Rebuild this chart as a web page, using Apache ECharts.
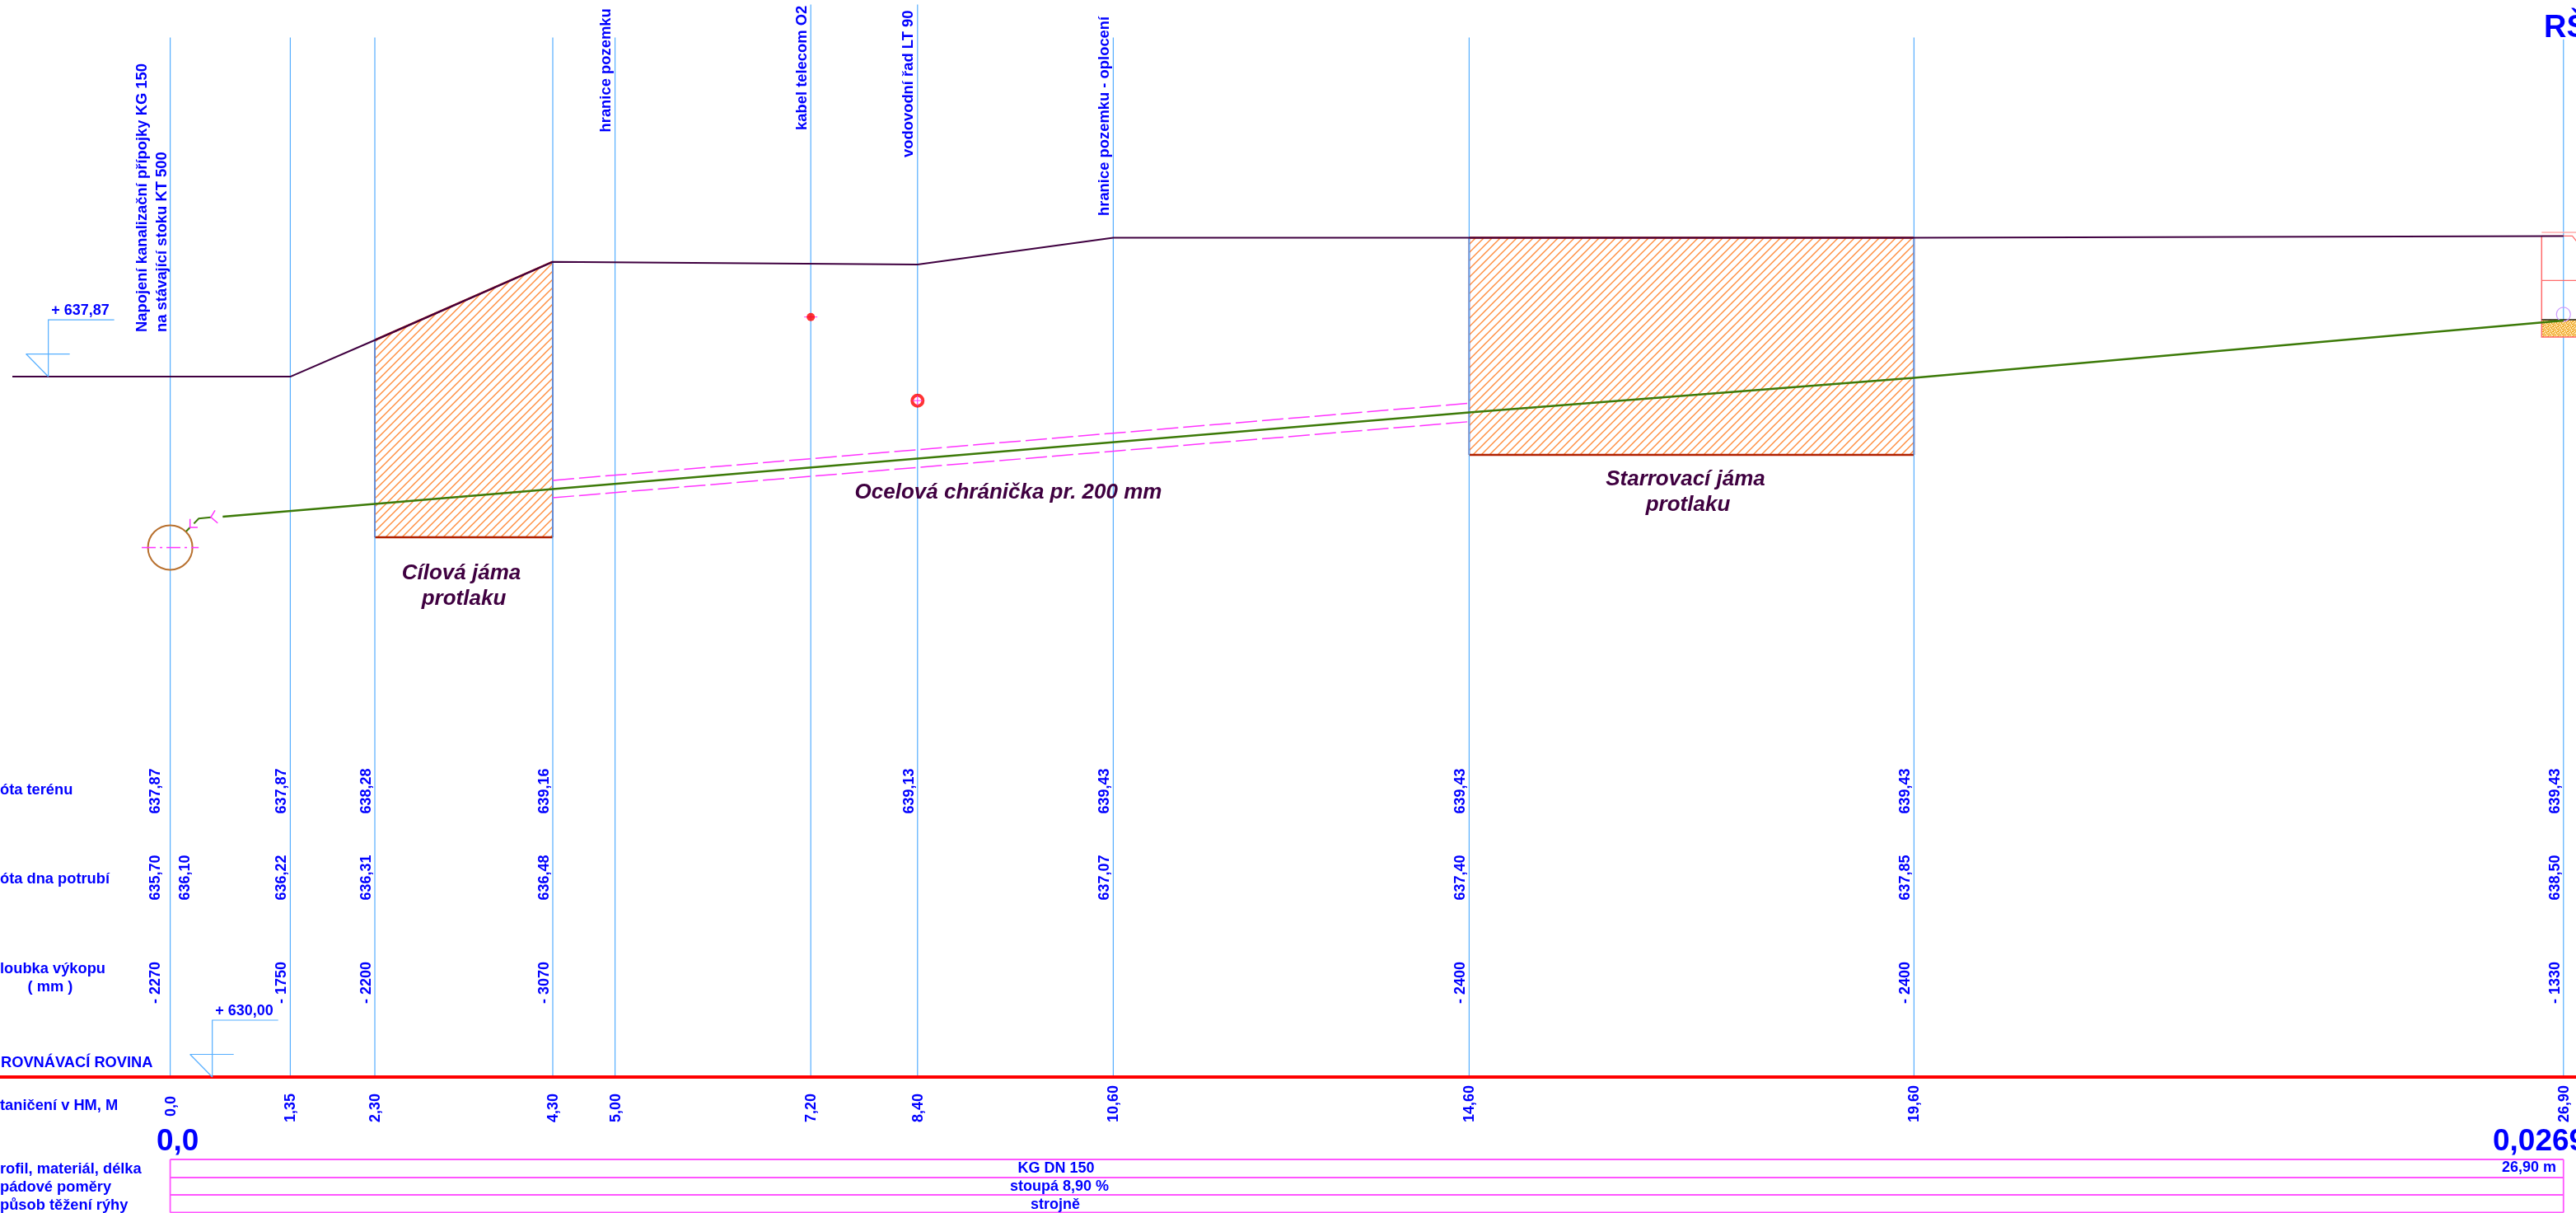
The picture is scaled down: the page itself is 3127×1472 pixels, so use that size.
<!DOCTYPE html>
<html><head><meta charset="utf-8">
<style>html,body{margin:0;padding:0;background:#fff;overflow:hidden}#c{width:3127px;height:1472px}</style>
<script src="https://cdn.jsdelivr.net/npm/echarts@6/dist/echarts.min.js"></script>
</head><body><div id="c"></div>
<script>
// ---- data (staničení s in metres, kóta z in metres a.s.l.) ----
const stations      = [0, 1.35, 2.30, 4.30, 5.00, 7.20, 8.40, 10.60, 14.60, 19.60, 26.90];
const stationLabels = ['0,0','1,35','2,30','4,30','5,00','7,20','8,40','10,60','14,60','19,60','26,90'];
const stationTopZ   = [641.68,641.68,641.68,641.68,641.68,642.05,642.05,641.68,641.68,641.68,641.66];
const terrainS = [-1.774, 0, 1.35, 2.30, 4.30, 8.40, 10.60, 14.60, 19.60, 26.90];
const terrainZ = [637.87, 637.87, 637.87, 638.28, 639.16, 639.13, 639.43, 639.43, 639.43, 639.45];
const pipeS = [0.59, 2.30, 4.30, 14.60, 19.60, 26.90];
const pipeZ = [636.296, 636.44, 636.606, 637.467, 637.856, 638.50];
const casingS = [4.30, 14.60];
const casingTopZ = [636.704, 637.571];
const casingBotZ = [636.509, 637.364];
const targetPitS = [2.30, 4.30, 4.30, 2.30];
const targetPitZ = [638.28, 639.16, 636.065, 636.065];
const startPitS = [14.60, 19.60, 19.60, 14.60];
const startPitZ = [639.43, 639.43, 636.99, 636.99];
const datumZ = 630;
const terrainRowS = [0,1.35,2.30,4.30,8.40,10.60,14.60,19.60,26.90];
const terrainRow  = ['637,87','637,87','638,28','639,16','639,13','639,43','639,43','639,43','639,43'];
const pipeRowS = [0,1.35,2.30,4.30,10.60,14.60,19.60,26.90];
const pipeRow  = ['635,70','636,22','636,31','636,48','637,07','637,40','637,85','638,50'];
const depthRowS = [0,1.35,2.30,4.30,14.60,19.60,26.90];
const depthRow  = ['- 2270','- 1750','- 2200','- 3070','- 2400','- 2400','- 1330'];
const utilityS = [0,5.00,7.20,8.40,10.60];
const utilityNames = ['Napojení kanalizační přípojky KG 150','hranice pozemku','kabel telecom O2','vodovodní řad LT 90','hranice pozemku - oplocení'];
const rowTitles = ['óta terénu','óta dna potrubí','loubka výkopu','( mm )','ROVNÁVACÍ ROVINA','taničení v HM, M','rofil, materiál, délka','pádové poměry','působ těžení rýhy'];
const tableTexts = ['KG DN 150','stoupá 8,90 %','strojně'];
const cableZ = 638.54, waterZ = 637.60, sewerZ = 635.95, sewerR = 0.25;
const manholeS = [26.655, 27.2];
const manholeZ = {cap:639.49, top:639.45, mid:638.95, baseTop:638.51, baseBot:638.315};

// ---- style ----
const BLUE='#0000FF', SKY='#55AEFF', PINK='#FF33FF', DARK='#3F0040', GREEN='#3C7A08', FONT='"Liberation Sans"';
const RED='#FF0000', SALMON='#FF6B6B';

function hatch(){const c=document.createElement('canvas');c.width=c.height=10;const g=c.getContext('2d');
  g.strokeStyle='#FF8C3C';g.lineWidth=1.4;g.beginPath();
  g.moveTo(-1,11);g.lineTo(11,-1);g.moveTo(-1,1);g.lineTo(1,-1);g.moveTo(9,11);g.lineTo(11,9);g.stroke();return c;}
function speckle(){const c=document.createElement('canvas');c.width=c.height=6;const g=c.getContext('2d');
  g.fillStyle='#FFE0A0';g.fillRect(0,0,6,6);g.fillStyle='#E89A10';
  [[0,0],[1,1],[3,0],[4,2],[2,3],[0,4],[5,4],[3,5],[1,2],[4,4],[2,0],[5,1],[3,3]].forEach(p=>g.fillRect(p[0],p[1],1,1));return c;}
const hatchFill={image:hatch(),repeat:'repeat'}, speckFill={image:speckle(),repeat:'repeat'};

function T(x,y,text,size,o){o=o||{};return {type:'text',x:x,y:y,rotation:o.rot?Math.PI/2:0,
  style:{text:text,fill:o.fill||BLUE,font:(o.italic?'italic ':'')+'bold '+size+'px '+FONT,
         align:o.align||'left',verticalAlign:'middle'},silent:true};}
function L(pts,color,w,dash){return {type:'polyline',shape:{points:pts},silent:true,
  style:{stroke:color,lineWidth:w,fill:null,lineDash:dash||null}};}
function zip(a,b){return a.map((v,i)=>[v,b[i]]);}

function mk(name,z,draw){return {type:'custom',name:name,coordinateSystem:'cartesian2d',z:z,silent:true,
  animation:false,clip:false,data:[[0,datumZ]],
  renderItem:(p,api)=>({type:'group',children:draw(s=>api.coord(s),api)})};}
function lineSeries(name,z,pts,color,w,dash){return {type:'line',name:name,z:z,data:pts,symbol:'none',silent:true,
  animation:false,clip:false,lineStyle:{color:color,width:w,type:dash||'solid'}};}

function pit(c,S,Z){const pts=S.map((s,i)=>c([s,Z[i]]));
  return [{type:'polygon',shape:{points:pts},style:{fill:hatchFill,stroke:null},silent:true},
    L([pts[0],pts[1]],'#C02000',2.5),
    L([pts[3],pts[0]],'#7A5A96',2), L([pts[1],pts[2]],'#7A5A96',2), L([pts[2],pts[3]],'#B02000',2.5)];}

function level(c,s,z,label){const a=c([s,z]),x=a[0],y=a[1];
  return [L([[x,y],[x,y-69],[x+80,y-69]],SKY,1.2),
    L([[x-27,y-27.5],[x+26,y-27.5]],SKY,1.2),
    L([[x-27,y-27.5],[x,y]],SKY,1.2),
    T(x+3.5,y-80,label,18)];}

const series=[
  mk('pits',2,c=>pit(c,targetPitS,targetPitZ).concat(pit(c,startPitS,startPitZ))),
  mk('stations',3,c=>stations.map((s,i)=>L([c([s,stationTopZ[i]]),c([s,datumZ])],SKY,1.2))),
  lineSeries('terrain',5,zip(terrainS,terrainZ),DARK,2),
  lineSeries('pipe',6,zip(pipeS,pipeZ),GREEN,2.5),
  lineSeries('casing top',4,zip(casingS,casingTopZ),PINK,1.5,[26,6]),
  lineSeries('casing bottom',4,zip(casingS,casingBotZ),PINK,1.5,[26,6]),
  lineSeries('datum',7,[[-1.913,datumZ],[27.041,datumZ]],RED,4),
  mk('utility crosshairs',7,c=>{
    const k=c([7.20,cableZ]);
    return [L([[k[0]-8,k[1]],[k[0]+8,k[1]]],PINK,1)];}),
  {type:'scatter',name:'kabel telecom',z:8,silent:true,animation:false,symbolSize:10,data:[[7.20,cableZ]],itemStyle:{color:RED}},
  {type:'scatter',name:'vodovod',z:8,silent:true,animation:false,symbolSize:13,data:[[8.40,waterZ]],
    itemStyle:{color:'#fff',borderColor:RED,borderWidth:4}},
  mk('marks',9,c=>{
    const w=c([8.40,waterZ]),q=c([0,sewerZ]),r=sewerR*108;
    return [
      L([[w[0]-6,w[1]],[w[0]+6,w[1]]],PINK,1), L([[w[0],w[1]-6],[w[0],w[1]+6]],PINK,1),
      {type:'circle',shape:{cx:q[0],cy:q[1],r:r},style:{fill:null,stroke:'#B8702E',lineWidth:2},silent:true},
      L([c([-0.32,sewerZ]),c([0.32,sewerZ])],PINK,1.5,[17,5,3,5]),
      L([c([0.18,636.132]),c([0.223,636.176])],GREEN,2),
      L([c([0.266,636.219]),c([0.321,636.275]),c([0.457,636.29])],GREEN,2),
      L([c([0.223,636.27]),c([0.223,636.176]),c([0.309,636.176])],PINK,1.5),
      L([c([0.504,636.367]),c([0.457,636.29]),c([0.534,636.225])],PINK,1.5)
    ];}),
  mk('manhole',4,c=>{
    const [a,b]=manholeS, Z=manholeZ, lt=c([a,Z.baseTop]), rb=c([b,Z.baseBot]), o=c([26.90,638.57]);
    return [
      {type:'rect',shape:{x:lt[0],y:lt[1],width:rb[0]-lt[0],height:rb[1]-lt[1]},style:{fill:speckFill,stroke:null},silent:true},
      L([c([a,Z.cap]),c([27.098,Z.cap])],'#FFAAAA',1.5),
      L([c([a,Z.top]),c([a,Z.baseBot]),c([b,Z.baseBot])],SALMON,1.5),
      L([c([a,Z.top]),c([27.0,Z.top]),c([b,639.2])],SALMON,1.2),
      L([c([a,Z.mid]),c([b,Z.mid])],SALMON,1.2),
      L([c([a,Z.baseTop]),c([b,Z.baseTop])],'#202010',1.5),
      {type:'circle',shape:{cx:o[0],cy:o[1],r:8.5},style:{fill:null,stroke:'#CC99FF',lineWidth:1.2},silent:true}
    ];}),
  mk('level marks',9,c=>level(c,-1.37,637.87,'+ 637,87').concat(level(c,0.473,datumZ,'+ 630,00'))),
  mk('top labels',10,c=>{
    const x=s=>c([s,datumZ])[0], off=[-34,-11,-10,-10.5,-10], bot=[403,160.5,158,191,262];
    const out=utilityS.map((s,i)=>T(x(s)+off[i],bot[i],utilityNames[i],18.4,{rot:1}));
    out.push(T(x(0)-10,403,'na stávající stoku KT 500',18.4,{rot:1}));
    return out;}),
  mk('rows',10,c=>{
    const x=s=>c([s,datumZ])[0], dx=s=>s===0?-18:-10, out=[];
    terrainRowS.forEach((s,i)=>out.push(T(x(s)+dx(s),987.5,terrainRow[i],18,{rot:1})));
    pipeRowS.forEach((s,i)=>out.push(T(x(s)+dx(s),1092.5,pipeRow[i],18,{rot:1})));
    out.push(T(x(0)+18.5,1092.5,'636,10',18,{rot:1}));
    depthRowS.forEach((s,i)=>out.push(T(x(s)+dx(s),1218,depthRow[i],18,{rot:1})));
    stations.forEach((s,i)=>out.push(T(x(s)+1,s===0?1355:1362,stationLabels[i],18,{rot:1})));
    return out;}),
  mk('row titles',10,c=>{
    const a=(t,x,y,al)=>T(x,y,t,18.3,{align:al});
    return [a(rowTitles[0],0,959),a(rowTitles[1],0,1067),a(rowTitles[2],0,1176),a(rowTitles[3],61,1198,'center'),
      a(rowTitles[4],1,1290),a(rowTitles[5],0,1342),a(rowTitles[6],0,1419),a(rowTitles[7],0,1441),a(rowTitles[8],0,1463)];}),
  mk('big labels',10,c=>{
    return [T(190,1386,'0,0',37),T(3026,1386,'0,0269',37),T(3088,35,'RŠ',38)];}),
  mk('table',10,c=>{
    const l=c([0,datumZ])[0],r=c([26.90,datumZ])[0],ys=[1407,1429,1450,1471.5],out=[],M='#FF55FF';
    ys.forEach(y=>out.push(L([[l,y],[r,y]],M,1.8)));
    out.push(L([[l,ys[0]],[l,ys[3]]],M,1.8),L([[r,ys[0]],[r,ys[3]]],M,1.8));
    out.push(T(1282,1418,tableTexts[0],18,{align:'center'}),T(1286,1440,tableTexts[1],18,{align:'center'}),T(1281,1462,tableTexts[2],18,{align:'center'}));
    out.push(T(3103,1417,'26,90 m',18,{align:'right'}));
    return out;}),
  mk('pit titles',10,c=>{
    const o={italic:1,fill:DARK,align:'center'};
    return [T(560,696,'Cílová jáma',26,o),T(563,727,'protlaku',26,o),
      T(1224,597.5,'Ocelová chránička pr. 200 mm',26,o),
      T(2046,582,'Starrovací jáma',26,o),T(2049,613,'protlaku',26,o)];})
];

const chart=echarts.init(document.getElementById('c'),null,{renderer:'canvas',devicePixelRatio:1});
chart.setOption({animation:false,backgroundColor:'#fff',
  grid:{left:0,right:0,top:0,bottom:0},
  xAxis:{type:'value',min:-1.913,max:27.041,show:false},
  yAxis:{type:'value',min:628.472,max:642.102,show:false},
  series:series});
</script></body></html>
